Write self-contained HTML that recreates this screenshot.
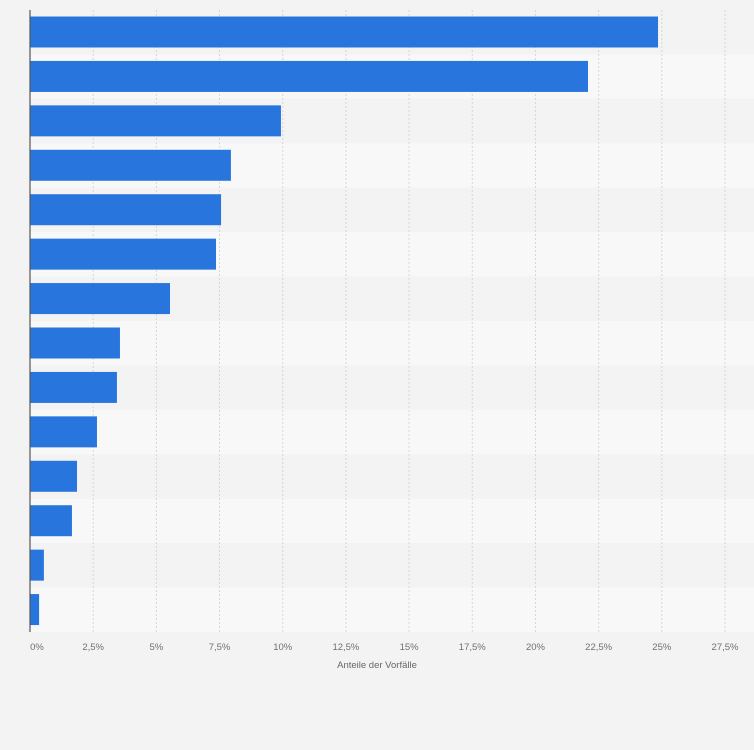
<!DOCTYPE html>
<html><head><meta charset="utf-8"><style>
body{margin:0;background:#f3f3f3;font-family:"Liberation Sans",sans-serif;}
svg{display:block}
</style></head><body>
<svg id="c" width="754" height="750"></svg>
<script>
const categories=["A","B","C","D","E","F","G","H","I","J","K","L","M","N"];
const values=[24.85,22.08,9.93,7.95,7.56,7.36,5.54,3.56,3.44,2.65,1.86,1.66,0.55,0.36];
const ticks=[0,2.5,5,7.5,10,12.5,15,17.5,20,22.5,25,27.5];
const tickLabels=["0%","2,5%","5%","7,5%","10%","12,5%","15%","17,5%","20%","22,5%","25%","27,5%"];
const NS="http://www.w3.org/2000/svg";
const svg=document.getElementById("c");
const L=30,R=725,T=10,B=632,maxV=27.5;
const x=v=>L+v/maxV*(R-L);
const rowH=(B-T)/categories.length;
const y=i=>T+i*rowH;
function mk(t,a){const e=document.createElementNS(NS,t);for(const k in a)e.setAttribute(k,a[k]);svg.appendChild(e);return e;}
categories.forEach((c,i)=>{
  const r=mk("rect",{x:L,y:y(i),width:754-L,height:rowH,fill:i%2?"#f8f8f8":"#f3f3f3"});
  
  
});
ticks.forEach((t,i)=>{
  if(i>0){const g=mk("line",{x1:x(t),x2:x(t),y1:T,y2:B,stroke:"#d6d6d6","stroke-dasharray":"2,2"});
  
  }
  const tx=mk("text",{x:x(t)+(i==0?7:0),y:650,"text-anchor":"middle","font-size":"9.5",fill:"#707070"});
  tx.textContent=tickLabels[i];
  
  
});
values.forEach((v,i)=>{
  const b=mk("rect",{x:L,y:y(i)+6.5,width:x(v)-L,height:31,fill:"#2876dd"});
  
  
});
const ax=mk("line",{x1:L,x2:L,y1:T,y2:B,stroke:"#555","stroke-width":1.2});


const tt=mk("text",{x:377,y:668,"text-anchor":"middle","font-size":"9.5",fill:"#666"});
tt.textContent="Anteile der Vorfälle";


</script>
</body></html>
